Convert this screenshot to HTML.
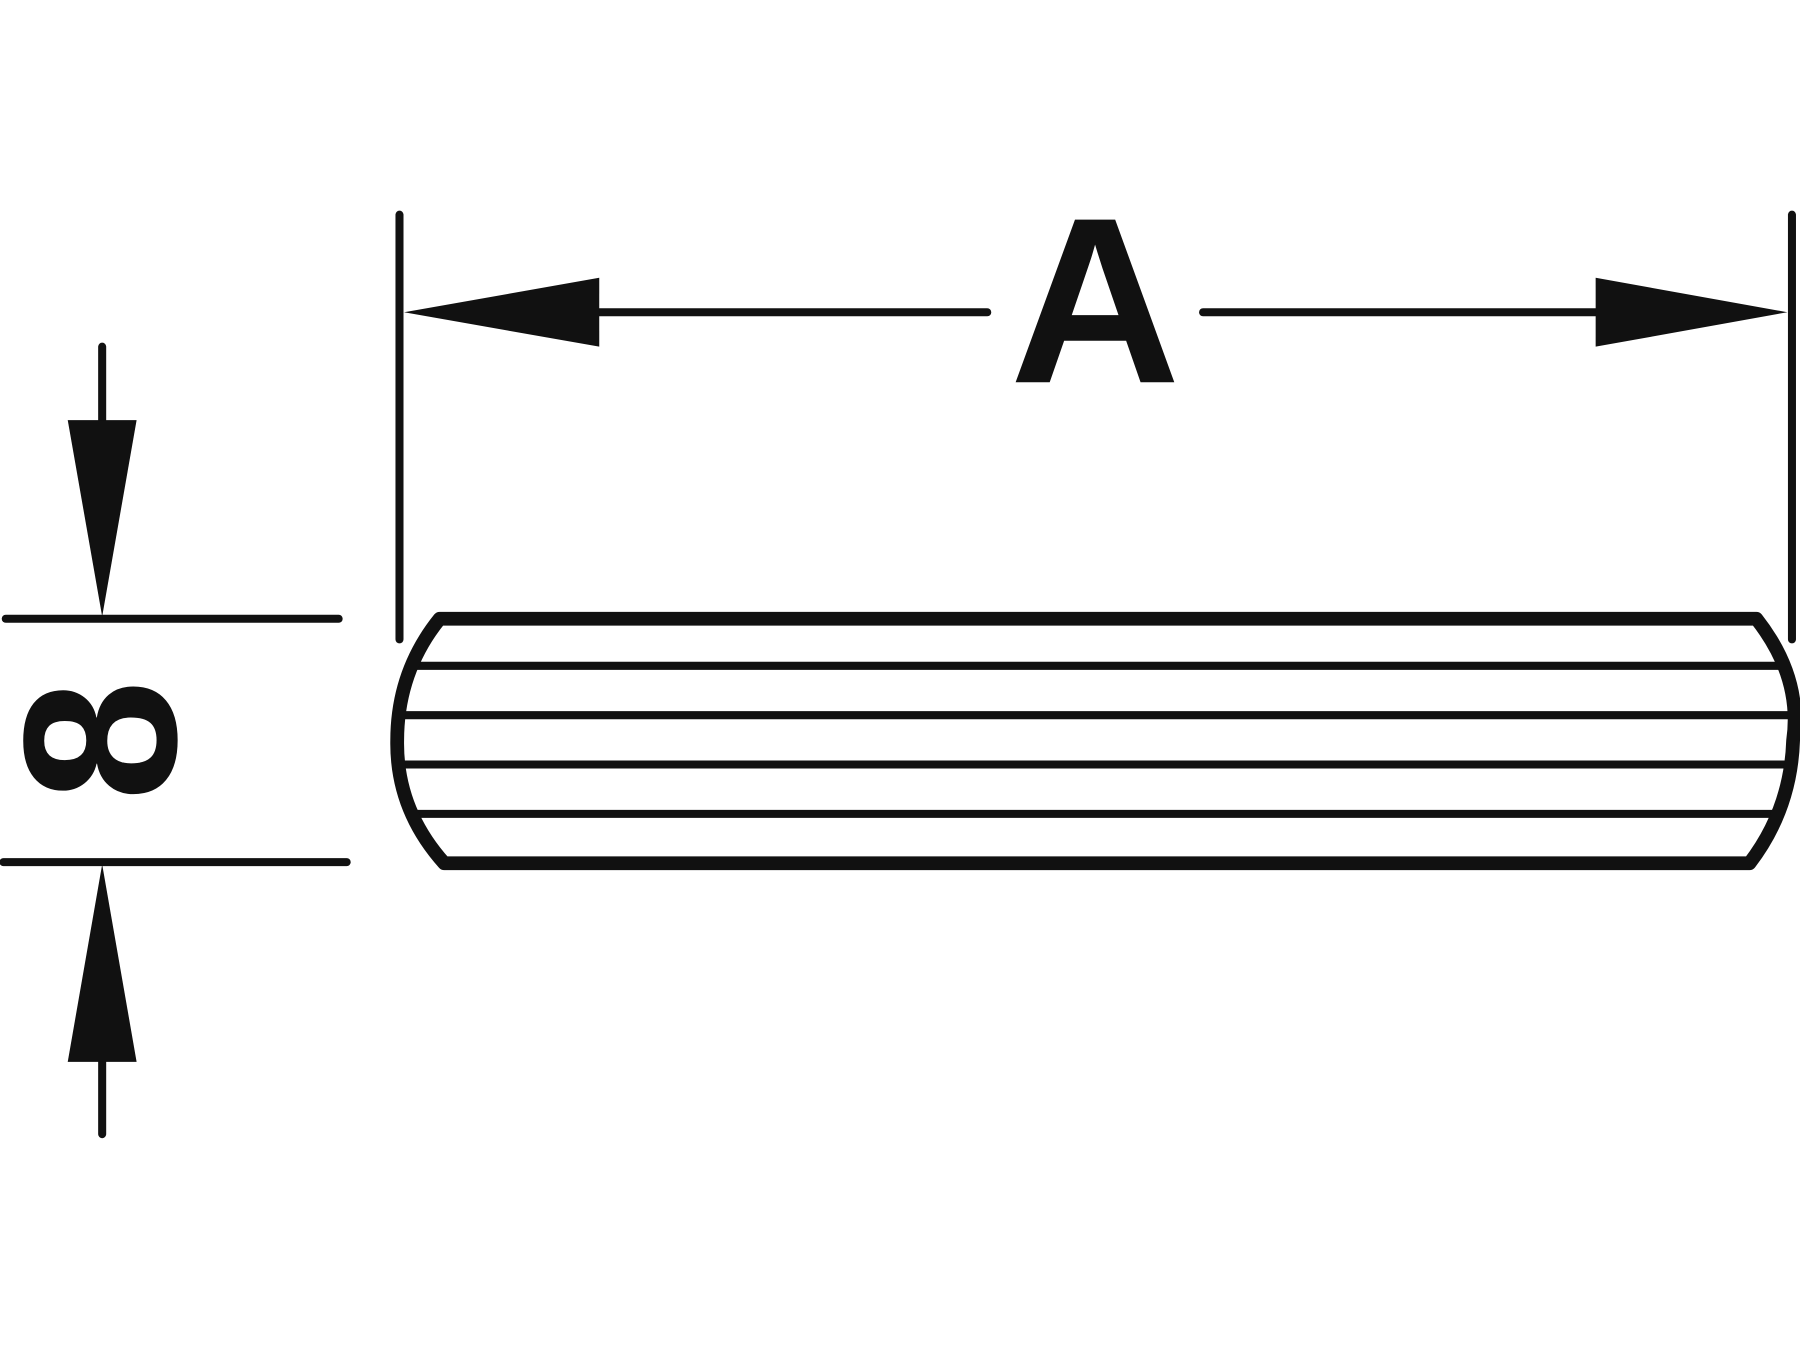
<!DOCTYPE html>
<html><head><meta charset="utf-8"><style>
html,body{margin:0;padding:0;background:#fff;}
svg{display:block;}
</style></head><body>
<svg width="1800" height="1350" viewBox="0 0 1568 1176" xmlns="http://www.w3.org/2000/svg">
<g stroke="#111" stroke-linecap="round" fill="none">
  <line x1="348" y1="187" x2="348" y2="557" stroke-width="7"/>
  <line x1="1561" y1="187" x2="1561" y2="557" stroke-width="7"/>
  <line x1="500" y1="272" x2="860" y2="272" stroke-width="7"/>
  <line x1="1048" y1="272" x2="1400" y2="272" stroke-width="7"/>
  <line x1="5" y1="539" x2="295" y2="539" stroke-width="7"/>
  <line x1="3" y1="751" x2="302" y2="751" stroke-width="7"/>
  <line x1="89" y1="302" x2="89" y2="380" stroke-width="7"/>
  <line x1="89" y1="910" x2="89" y2="988" stroke-width="7"/>
</g>
<g fill="#111">
  <polygon points="352,272 522,242 522,302"/>
  <polygon points="1557,272 1390,242 1390,302"/>
  <polygon points="89,537 59,366 119,366"/>
  <polygon points="89,753 59,925 119,925"/>
</g>
<defs>
  <clipPath id="c">
    <path d="M383,539 L1530,539 Q1570,590 1562,645 Q1560,705 1524,752 L387,752 Q345,705 346,645 Q346,585 383,539 Z"/>
  </clipPath>
</defs>
<g clip-path="url(#c)" stroke="#111" stroke-width="7">
  <line x1="300" y1="580" x2="1600" y2="580"/>
  <line x1="300" y1="623" x2="1600" y2="623"/>
  <line x1="300" y1="666" x2="1600" y2="666"/>
  <line x1="300" y1="709" x2="1600" y2="709"/>
</g>
<path d="M383,539 L1530,539 Q1570,590 1562,645 Q1560,705 1524,752 L387,752 Q345,705 346,645 Q346,585 383,539 Z" fill="none" stroke="#111" stroke-width="12" stroke-linejoin="round"/>
<text x="954" y="333" text-anchor="middle" font-family="Liberation Sans, sans-serif" font-weight="bold" font-size="206" fill="#111">A</text>
<text x="0" y="0" transform="translate(88,645) rotate(-90)" text-anchor="middle" dominant-baseline="central" font-family="Liberation Sans, sans-serif" font-weight="bold" font-size="190" fill="#111">8</text>
</svg>
</body></html>
